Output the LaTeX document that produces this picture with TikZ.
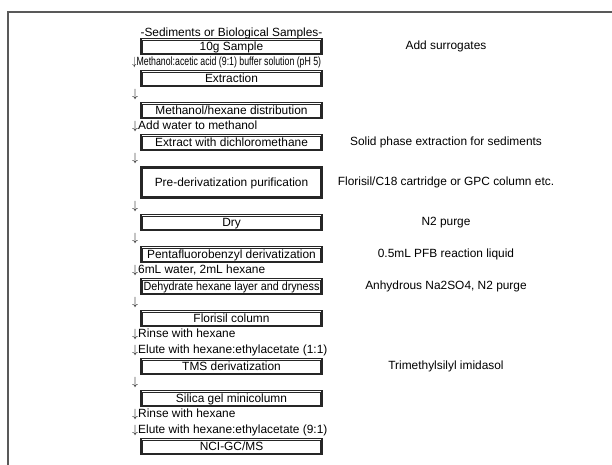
\documentclass[tikz,border=0pt]{standalone}
\usepackage{fontspec}
\setmainfont{Liberation Sans}
\usepackage{graphicx}
\newcommand{\squeeze}[2]{\resizebox{#1}{\height}{#2}}
\newcommand{\dn}{$\downarrow$}
\begin{document}
\begin{tikzpicture}[x=1pt, y=-1pt,
        every node/.style={font=\fontsize{11.9}{14}\selectfont, inner sep=0pt},
        stepbox/.style={draw=black!85, line width=1.1pt, minimum width=181pt, minimum height=15.5pt,
            text height=8.6pt, text depth=1pt,
            path picture={\draw[line width=0.5pt, black!85]
                ([shift={(1.4pt,-1.4pt)}]path picture bounding box.north west) rectangle
                ([shift={(-1.4pt,1.4pt)}]path picture bounding box.south east);}},
        tallbox/.style={stepbox, minimum height=31pt},
        note/.style={anchor=west},
        remark/.style={anchor=center}]
        \useasboundingbox (0,0) rectangle (612,465);
        \draw[line width=1.2pt, black!65] (8,465) -- (8,12) -- (612,12);

        \node (title) at (231.5, 33) {-Sediments or Biological Samples-};
        \node[style=stepbox] (sample) at (231.5, 46.5) {10g Sample};
        \node[style=note] (buffer) at (132, 62.5) {\squeeze{189pt}{\dn Methanol:acetic acid (9:1) buffer solution (pH 5)}};
        \node[style=stepbox] (extraction) at (231.5, 78.5) {Extraction};
        \node[style=note] (d1) at (132, 94.5) {\dn};
        \node[style=stepbox] (distrib) at (231.5, 110.5) {Methanol/hexane distribution};
        \node[style=note] (water) at (132, 126.5) {\dn Add water to methanol};
        \node[style=stepbox] (dcm) at (231.5, 142.5) {Extract with dichloromethane};
        \node[style=note] (d2) at (132, 158.5) {\dn};
        \node[style=tallbox] (prederiv) at (231.5, 182.5) {Pre-derivatization purification};
        \node[style=note] (d3) at (132, 206.5) {\dn};
        \node[style=stepbox] (dry) at (231.5, 222.5) {Dry};
        \node[style=note] (d4) at (132, 238.5) {\dn};
        \node[style=stepbox] (pfb) at (231.5, 254.5) {Pentafluorobenzyl derivatization};
        \node[style=note] (wash) at (132, 270.5) {\dn 6mL water, 2mL hexane};
        \node[style=stepbox] (dehyd) at (231.5, 286.5) {\squeeze{176pt}{Dehydrate hexane layer and dryness}};
        \node[style=note] (d5) at (132, 302.5) {\dn};
        \node[style=stepbox] (florisil) at (231.5, 318.5) {Florisil column};
        \node[style=note] (rinse1) at (132, 334.5) {\dn Rinse with hexane};
        \node[style=note] (elute1) at (132, 350.5) {\dn Elute with hexane:ethylacetate (1:1)};
        \node[style=stepbox] (tms) at (231.5, 366.5) {TMS derivatization};
        \node[style=note] (d6) at (132, 382.5) {\dn};
        \node[style=stepbox] (silica) at (231.5, 398.5) {Silica gel minicolumn};
        \node[style=note] (rinse2) at (132, 414.5) {\dn Rinse with hexane};
        \node[style=note] (elute2) at (132, 430.5) {\dn Elute with hexane:ethylacetate (9:1)};
        \node[style=stepbox] (gcms) at (231.5, 446.5) {NCI-GC/MS};

        % conditions beside the steps
        \node[style=remark] (surr) at (446, 46.5) {Add surrogates};
        \node[style=remark] (spe) at (446, 142.5) {Solid phase extraction for sediments};
        \node[style=remark] (cart) at (446, 182.5) {Florisil/C18 cartridge or GPC column etc.};
        \node[style=remark] (purge) at (446, 222.5) {N2 purge};
        \node[style=remark] (reagent) at (446, 254.5) {0.5mL PFB reaction liquid};
        \node[style=remark] (sulfate) at (446, 286.5) {Anhydrous Na2SO4, N2 purge};
        \node[style=remark] (imid) at (446, 366.5) {Trimethylsilyl imidasol};
    \end{tikzpicture}
\end{document}
